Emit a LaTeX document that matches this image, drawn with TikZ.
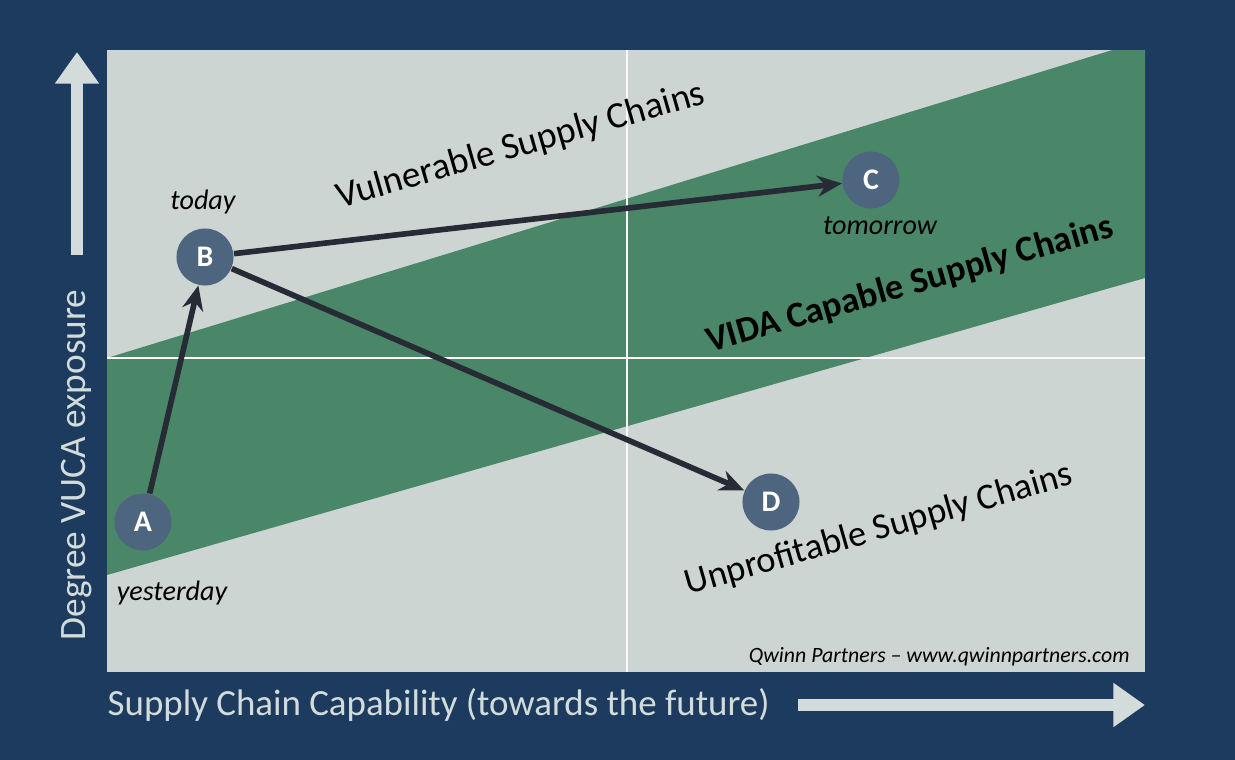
\documentclass[tikz,border=0pt]{standalone}
\usepackage{fontspec}
\setmainfont{Carlito}
\usetikzlibrary{arrows.meta}
\definecolor{navy}{HTML}{1C3B5E}
\definecolor{panel}{HTML}{CDD5D2}
\definecolor{band}{HTML}{4A8769}
\definecolor{dot}{HTML}{4E6580}
\definecolor{ink}{HTML}{262B35}
\definecolor{axis}{HTML}{D3DCDA}
\begin{document}
\begin{tikzpicture}[
			x = 0.01cm, y = -0.01cm,
			point/.style = {circle, fill=dot, minimum size=0.57cm, inner sep=0pt,
				text=white, font=\fontsize{8.5}{9}\selectfont\bfseries},
			when/.style = {font=\fontsize{8}{9}\selectfont\itshape, text=black},
			zone/.style = {font=\fontsize{10.6}{11}\selectfont, rotate=16, text=black},
			move/.style = {ink, line width=1.6pt, -{Stealth[length=7pt,width=6pt]}},
			bigarrow/.style = {axis, line width=3.5pt, -{Triangle[length=9pt,width=12pt]}}]

			\def\xl{107}
			\def\xr{1145}
			\def\yt{50}
			\def\yb{672}

			\fill[navy] (0,0) rectangle (1235,760);
			\fill[panel] (\xl,\yt) rectangle (\xr,\yb);
			\begin{scope}
				\clip (\xl,\yt) rectangle (\xr,\yb);
				\fill[band] (\xl,575) -- (\xr,278) -- (\xr,40) -- (\xl,358) -- cycle;
			\end{scope}
			\draw[white!85!panel, line width=0.6pt] (627,\yt) -- (627,\yb);
			\draw[white!85!panel, line width=0.6pt] (\xl,358) -- (\xr,358);

			% axes
			\coordinate (ys) at (77,255);
			\coordinate (ye) at (77,52);
			\draw[bigarrow] (ys) -- (ye);
			\node[rotate=90, text=axis, font=\fontsize{10.6}{11}\selectfont] (ylab) at (77,465) {Degree VUCA exposure};
			\node[anchor=west, inner sep=0pt, text=axis, font=\fontsize{10.5}{11}\selectfont] (xlab) at (107,705) {Supply Chain Capability (towards the future)};
			\coordinate (xs) at (798,705);
			\coordinate (xe) at (1145,705);
			\draw[bigarrow] (xs) -- (xe);

			% zones
			\node[zone] (vul) at (521,146) {Vulnerable Supply Chains};
			\node[zone, font=\fontsize{10.3}{11}\selectfont\bfseries] (vida) at (910,285) {VIDA Capable Supply Chains};
			\node[zone, font=\fontsize{10.4}{11}\selectfont] (unp) at (879,530) {Unprofitable Supply Chains};

			% points
			\node[point] (A) at (143,522) {A};
			\node[point] (B) at (205,257) {B};
			\node[point] (C) at (871,180) {C};
			\node[point] (D) at (771,502) {D};
			\node[when] (ta) at (172,593) {yesterday};
			\node[when] (tb) at (203,202) {today};
			\node[when] (tc) at (880,226) {tomorrow};

			\draw[move] (A) -- (B);
			\draw[move] (B) -- (C);
			\draw[move] (B) -- (D);

			\node[anchor=east, font=\fontsize{6.2}{7}\selectfont\itshape, text=black] (credit) at (1142,657) {Qwinn Partners – www.qwinnpartners.com};

		\end{tikzpicture}
\end{document}
